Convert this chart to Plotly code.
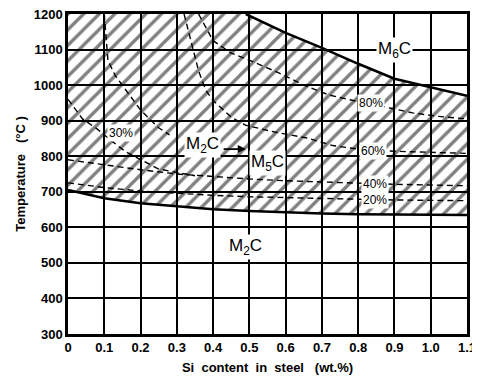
import plotly.graph_objects as go

# Phase boundaries
m6c_bound_x = [0.49, 0.55, 0.60, 0.70, 0.80, 0.90, 1.00, 1.10]
m6c_bound_y = [1200, 1172, 1147, 1105, 1060, 1018, 993, 970]
low_bound_x = [0.0, 0.1, 0.2, 0.3, 0.4, 0.5, 0.6, 0.7, 0.8, 0.9, 1.0, 1.1]
low_bound_y = [705, 682, 668, 659, 651, 646, 642, 639, 637, 636, 635, 635]

# Dashed iso-percentage lines
p80_x = [0.36, 0.40, 0.45, 0.50, 0.58, 0.65, 0.72, 0.78, 0.89, 0.95, 1.02, 1.10]
p80_y = [1200, 1125, 1090, 1070, 1035, 1000, 972, 958, 935, 922, 912, 905]
p60_x = [0.32, 0.36, 0.38, 0.40, 0.45, 0.49, 0.57, 0.66, 0.73, 0.80, 0.90, 1.00, 1.10]
p60_y = [1200, 1040, 985, 957, 910, 887, 868, 851, 830, 820, 814, 811, 808]
p30_x = [0.0, 0.04, 0.08, 0.12, 0.16, 0.25, 0.35]
p30_y = [960, 905, 877, 843, 812, 764, 745]
pA_x = [0.10, 0.11, 0.13, 0.16, 0.20, 0.25, 0.28]
pA_y = [1200, 1070, 1027, 985, 930, 880, 860]
p40_x = [0.0, 0.1, 0.2, 0.3, 0.4, 0.5, 0.6, 0.7, 0.8, 0.9, 1.0, 1.1]
p40_y = [790, 775, 762, 750, 742, 736, 731, 727, 724, 721, 719, 717]
p20_x = [0.0, 0.1, 0.2, 0.3, 0.4, 0.5, 0.6, 0.7, 0.8, 0.9, 1.0, 1.1]
p20_y = [725, 712, 702, 695, 690, 686, 683, 681, 679, 677, 676, 675]

x_ticks = [0, 0.1, 0.2, 0.3, 0.4, 0.5, 0.6, 0.7, 0.8, 0.9, 1.0, 1.1]
x_tick_text = ["0", "0.1", "0.2", "0.3", "0.4", "0.5", "0.6", "0.7", "0.8", "0.9", "1.0", "1.1"]
y_ticks = [300, 400, 500, 600, 700, 800, 900, 1000, 1100, 1200]

# Labels
lab_text = ["M<sub>6</sub>C", "M<sub>2</sub>C", "M<sub>5</sub>C", "M<sub>2</sub>C", "80%", "60%", "40%", "20%", "30%"]
lab_x = [0.90, 0.37, 0.55, 0.49, 0.835, 0.84, 0.845, 0.845, 0.145]
lab_y = [1100, 832, 782, 545, 950, 816, 722, 677, 866]

# hatched polygon
poly_x = [0.0] + m6c_bound_x + [1.1] + low_bound_x[::-1] + [0.0]
poly_y = [1200] + m6c_bound_y + [low_bound_y[-1]] + low_bound_y[::-1] + [1200]

fig = go.Figure()
fig.add_trace(go.Scatter(
    x=poly_x, y=poly_y, mode="lines", fill="toself",
    line=dict(width=0, color="rgba(0,0,0,0)"),
    fillcolor="rgba(0,0,0,0)",
    fillpattern=dict(shape="/", size=11, solidity=0.3, fgcolor="black",
                     bgcolor="rgba(0,0,0,0)", fillmode="overlay"),
    hoverinfo="skip", showlegend=False))

dash_style = dict(color="black", width=1.4, dash="6px,4px")
for xs, ys in [(p80_x, p80_y), (p60_x, p60_y), (p30_x, p30_y), (pA_x, pA_y),
               (p40_x, p40_y), (p20_x, p20_y)]:
    fig.add_trace(go.Scatter(x=xs, y=ys, mode="lines", line=dash_style,
                             showlegend=False, hoverinfo="skip"))

for xs, ys in [(m6c_bound_x, m6c_bound_y), (low_bound_x, low_bound_y)]:
    fig.add_trace(go.Scatter(x=xs, y=ys, mode="lines",
                             line=dict(color="black", width=2.5),
                             showlegend=False, hoverinfo="skip"))

font = dict(family="Liberation Sans, Arial, sans-serif", color="black")
for t, x, y in zip(lab_text, lab_x, lab_y):
    big = t.startswith("M")
    fig.add_annotation(x=x, y=y, text=t, showarrow=False,
                       font=dict(**font, size=17 if big else 12),
                       bgcolor="white", borderpad=1)

# arrow M2C -> M5C
fig.add_annotation(x=0.49, y=820, ax=0.425, ay=820, xref="x", yref="y",
                   axref="x", ayref="y", text="", showarrow=True,
                   arrowhead=2, arrowwidth=1.6, arrowsize=1, arrowcolor="black")

fig.update_layout(
    width=480, height=380,
    margin=dict(l=60, r=21, t=6, b=54),
    paper_bgcolor="white", plot_bgcolor="white",
    font=dict(**font, size=13),
    xaxis=dict(range=[0, 1.1], tickvals=x_ticks, ticktext=x_tick_text,
               showgrid=True, gridcolor="black", gridwidth=1.5,
               showline=True, linecolor="black", linewidth=2.5, mirror=True,
               ticks="", zeroline=False, automargin=False,
               ticklabeloverflow="allow",
               tickfont=dict(**font, size=13, weight="bold"),
               title=dict(text="Si  content  in  steel   (wt.%)",
                          font=dict(**font, size=13, weight="bold"), standoff=9)),
    yaxis=dict(range=[300, 1200], tickvals=y_ticks,
               showgrid=True, gridcolor="black", gridwidth=1.5,
               showline=True, linecolor="black", linewidth=2.5, mirror=True,
               ticks="", zeroline=False, automargin=False,
               ticklabeloverflow="allow",
               tickfont=dict(**font, size=13, weight="bold"),
               title=dict(text="Temperature   (°C )",
                          font=dict(**font, size=13, weight="bold"), standoff=6)),
)

fig.write_html("out.html")
